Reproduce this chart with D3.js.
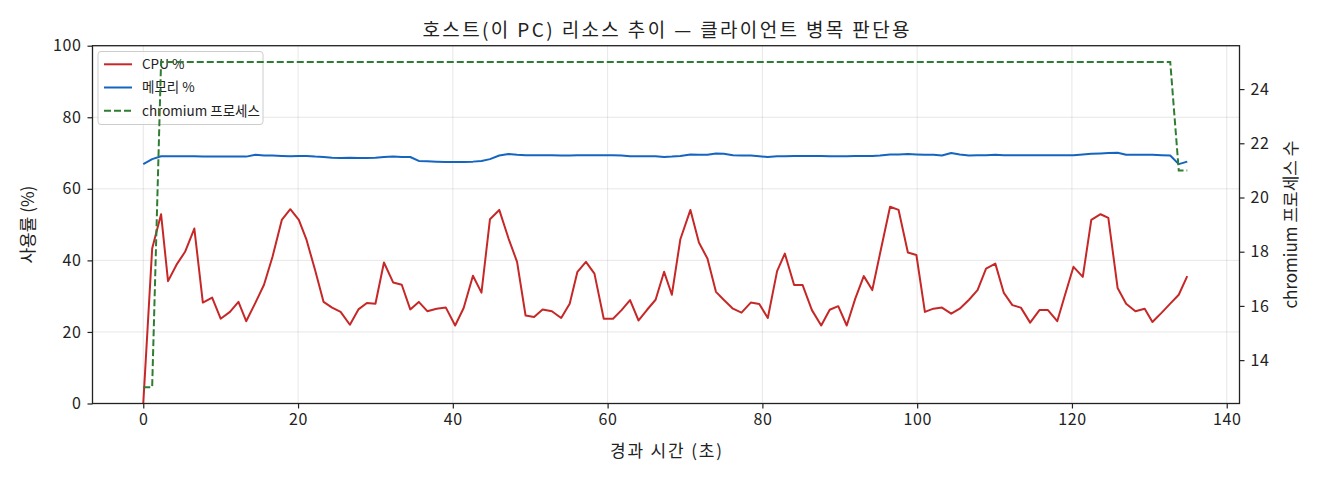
<!DOCTYPE html>
<html>
<head>
<meta charset="utf-8">
<script src="https://cdn.jsdelivr.net/npm/d3@7"></script>
<style>
  body { margin: 0; background: #fff; }
  svg text { font-family: "Noto Sans CJK KR", "Noto Sans", sans-serif; fill: #222; }
</style>
</head>
<body>
<div class="chart"></div>
<script>
// elapsed seconds, one sample per ~1.12 s
const times = [
  0, 1.15, 2.3, 3.2, 4.3, 5.4, 6.6, 7.7, 8.9, 10.0,
  11.2, 12.3, 13.3, 14.5, 15.6, 16.7, 17.9, 19.0, 20.1, 21.1,
  22.2, 23.3, 24.4, 25.5, 26.7, 27.8, 28.9, 30.0, 31.1, 32.3,
  33.4, 34.5, 35.6, 36.7, 37.9, 39.1, 40.3, 41.4, 42.6, 43.7,
  44.8, 46.0, 47.2, 48.3, 49.4, 50.5, 51.6, 52.8, 54.0, 55.1,
  56.1, 57.2, 58.3, 59.5, 60.7, 61.8, 62.9, 64.0, 65.1, 66.2,
  67.3, 68.3, 69.4, 70.7, 71.8, 72.9, 74.0, 75.0, 76.2, 77.3,
  78.5, 79.6, 80.7, 81.9, 82.9, 84.1, 85.2, 86.4, 87.6, 88.7,
  89.8, 90.9, 92.0, 93.1, 94.2, 95.2, 96.5, 97.6, 98.8, 99.9,
  101.0, 102.1, 103.2, 104.4, 105.5, 106.7, 107.8, 108.9, 110.1, 111.2,
  112.3, 113.4, 114.6, 115.8, 116.9, 118.1, 119.1, 120.2, 121.4, 122.5,
  123.7, 124.7, 125.9, 127.0, 128.2, 129.4, 130.4, 131.6, 132.7, 133.8,
  134.9
];

const cpu = [
  0, 43.3, 52.9, 34.2, 38.8, 42.4, 48.9, 28.2, 29.6, 23.7,
  25.6, 28.4, 23.0, 28.2, 33.2, 41.0, 51.3, 54.3, 51.3, 45.7,
  37.3, 28.4, 26.8, 25.6, 22.0, 26.3, 28.1, 27.9, 39.4, 33.8,
  33.2, 26.3, 28.4, 25.8, 26.5, 26.8, 21.8, 26.7, 35.7, 31.0,
  51.5, 54.1, 46.1, 39.6, 24.6, 24.2, 26.3, 25.8, 23.9, 27.9,
  36.8, 39.6, 36.3, 23.7, 23.7, 26.1, 28.9, 23.2, 26.2, 29.0,
  36.8, 30.4, 45.9, 54.1, 45.0, 40.5, 31.2, 29.0, 26.5, 25.4,
  28.2, 27.8, 23.9, 37.0, 41.9, 33.1, 33.1, 26.1, 21.8, 26.2,
  27.2, 21.8, 29.3, 35.6, 31.7, 41.9, 55.0, 54.1, 42.2, 41.5,
  25.6, 26.5, 26.8, 25.1, 26.5, 29.0, 31.7, 37.7, 39.1, 30.9,
  27.5, 26.8, 22.6, 26.1, 26.1, 23.0, 30.3, 38.2, 35.4, 51.3,
  52.9, 51.9, 32.3, 27.9, 25.8, 26.5, 22.8, 25.4, 27.9, 30.4,
  35.6
];

const mem = [
  66.9, 68.3, 69.1, 69.1, 69.1, 69.1, 69.1, 69.0, 69.0, 69.0,
  69.0, 69.0, 69.0, 69.5, 69.3, 69.3, 69.2, 69.1, 69.2, 69.2,
  69.0, 68.9, 68.7, 68.6, 68.7, 68.6, 68.6, 68.7, 68.9, 69.0,
  68.9, 68.9, 67.8, 67.7, 67.6, 67.5, 67.5, 67.5, 67.6, 67.8,
  68.3, 69.3, 69.7, 69.5, 69.4, 69.4, 69.4, 69.4, 69.3, 69.3,
  69.4, 69.4, 69.4, 69.4, 69.4, 69.3, 69.1, 69.1, 69.1, 69.1,
  68.9, 69.0, 69.2, 69.6, 69.5, 69.5, 69.9, 69.8, 69.4, 69.3,
  69.3, 69.1, 68.9, 69.1, 69.1, 69.2, 69.2, 69.2, 69.2, 69.1,
  69.1, 69.1, 69.2, 69.2, 69.2, 69.3, 69.6, 69.6, 69.7, 69.6,
  69.5, 69.5, 69.3, 70.0, 69.6, 69.3, 69.4, 69.4, 69.5, 69.4,
  69.4, 69.4, 69.4, 69.4, 69.4, 69.4, 69.4, 69.4, 69.6, 69.8,
  69.9, 70.0, 70.1, 69.5, 69.5, 69.5, 69.5, 69.4, 69.3, 66.9,
  67.6
];

const procs = [
  13, 13,
  25, 25, 25, 25, 25, 25, 25, 25, 25, 25, 25, 25, 25, 25, 25, 25, 25, 25, 25, 25,
  25, 25, 25, 25, 25, 25, 25, 25, 25, 25, 25, 25, 25, 25, 25, 25, 25, 25, 25, 25,
  25, 25, 25, 25, 25, 25, 25, 25, 25, 25, 25, 25, 25, 25, 25, 25, 25, 25, 25, 25,
  25, 25, 25, 25, 25, 25, 25, 25, 25, 25, 25, 25, 25, 25, 25, 25, 25, 25, 25, 25,
  25, 25, 25, 25, 25, 25, 25, 25, 25, 25, 25, 25, 25, 25, 25, 25, 25, 25, 25, 25,
  25, 25, 25, 25, 25, 25, 25, 25, 25, 25, 25, 25, 25, 25, 25, 25, 25,
  21, 21
];

const xTicks = [0, 20, 40, 60, 80, 100, 120, 140];
const pctTicks = [0, 20, 40, 60, 80, 100];
const procTicks = [14, 16, 18, 20, 22, 24];

const titleText = "호스트(이 PC) 리소스 추이 — 클라이언트 병목 판단용";
const xLabel = "경과 시간 (초)";
const yLabel = "사용률 (%)";
const y2Label = "chromium 프로세스 수";
const seriesNames = ["CPU %", "메모리 %", "chromium 프로세스"];
const seriesColors = ["#c62828", "#1565c0", "#2e7d32"];

const W = 1320, H = 480;
const pLeft = 92.5, pRight = 1239.5, pTop = 45.7, pBottom = 403.5;

const svg = d3.select(".chart")
    .append("svg")
    .attr("width", W)
    .attr("height", H);

const x = d3.scaleLinear().domain([-6.56, 141.65]).range([pLeft, pRight]);
const y = d3.scaleLinear().domain([0, 100]).range([pBottom, pTop]);
const y2 = d3.scaleLinear().domain([12.4, 25.6]).range([pBottom, pTop]);

// grid
const grid = svg.append("g").attr("stroke", "#b0b0b0").attr("stroke-opacity", 0.3).attr("stroke-width", 1);
grid.selectAll(".gx").data(xTicks).join("line")
    .attr("x1", d => x(d)).attr("x2", d => x(d))
    .attr("y1", pTop).attr("y2", pBottom);
grid.selectAll(".gy").data(pctTicks).join("line")
    .attr("x1", pLeft).attr("x2", pRight)
    .attr("y1", d => y(d)).attr("y2", d => y(d));

svg.append("clipPath").attr("id", "plot")
    .append("rect").attr("x", pLeft).attr("y", pTop)
    .attr("width", pRight - pLeft).attr("height", pBottom - pTop);

const linePct = d3.line().x((d, i) => x(times[i])).y(d => y(d));
const lineProc = d3.line().x((d, i) => x(times[i])).y(d => y2(d));

svg.append("path")
    .datum(cpu)
    .attr("clip-path", "url(#plot)")
    .attr("fill", "none")
    .attr("stroke", seriesColors[0])
    .attr("stroke-width", 2)
    .attr("stroke-linejoin", "round")
    .attr("d", linePct);

svg.append("path")
    .datum(mem)
    .attr("clip-path", "url(#plot)")
    .attr("fill", "none")
    .attr("stroke", seriesColors[1])
    .attr("stroke-width", 2)
    .attr("stroke-linejoin", "round")
    .attr("d", linePct);

// legend sits on the first axes, under the process line
const lg = svg.append("g").attr("transform", "translate(98,51.5)");
lg.append("rect")
    .attr("width", 165).attr("height", 73)
    .attr("rx", 3)
    .attr("fill", "#fff").attr("fill-opacity", 0.8)
    .attr("stroke", "#cccccc").attr("stroke-width", 1);
const rows = lg.selectAll(".row").data(seriesNames).join("g")
    .attr("transform", (d, i) => `translate(0,${12.8 + i * 23.2})`);
rows.append("line")
    .attr("x1", 6).attr("x2", 34)
    .attr("stroke", (d, i) => seriesColors[i])
    .attr("stroke-width", 2)
    .attr("stroke-dasharray", (d, i) => i === 2 ? "7,3" : null);
rows.append("text")
    .attr("x", 44).attr("y", 4.8)
    .attr("font-size", "13.5px")
    .text(d => d);

svg.append("path")
    .datum(procs)
    .attr("clip-path", "url(#plot)")
    .attr("fill", "none")
    .attr("stroke", seriesColors[2])
    .attr("stroke-width", 2)
    .attr("stroke-dasharray", "7,3")
    .attr("d", lineProc);

// axes
const fmt = d3.format("d");
const ax = svg.append("g").attr("transform", `translate(0,${pBottom})`)
    .call(d3.axisBottom(x).tickValues(xTicks).tickFormat(fmt).tickSize(5).tickPadding(5));
const ay = svg.append("g").attr("transform", `translate(${pLeft},0)`)
    .call(d3.axisLeft(y).tickValues(pctTicks).tickFormat(fmt).tickSize(5).tickPadding(6));
const ay2 = svg.append("g").attr("transform", `translate(${pRight},0)`)
    .call(d3.axisRight(y2).tickValues(procTicks).tickFormat(fmt).tickSize(5).tickPadding(6));
[ax, ay, ay2].forEach(g => {
    g.select(".domain").remove();
    g.selectAll("line").attr("stroke", "#222").attr("stroke-width", 1.2);
    g.selectAll("text").attr("font-size", "16px").attr("fill", "#222")
        .attr("letter-spacing", "0.6px")
        .attr("font-family", "'Noto Sans CJK KR', sans-serif");
});

svg.append("rect")
    .attr("x", pLeft).attr("y", pTop)
    .attr("width", pRight - pLeft).attr("height", pBottom - pTop)
    .attr("fill", "none").attr("stroke", "#222").attr("stroke-width", 1.3);

// labels
svg.append("text")
    .attr("x", (pLeft + pRight) / 2).attr("y", 37)
    .attr("text-anchor", "middle")
    .attr("font-size", "19px")
    .attr("textLength", 487)
    .attr("lengthAdjust", "spacing")
    .text(titleText);

svg.append("text")
    .attr("x", (pLeft + pRight) / 2).attr("y", 457)
    .attr("text-anchor", "middle")
    .attr("font-size", "17px")
    .attr("textLength", 112)
    .attr("lengthAdjust", "spacing")
    .text(xLabel);

svg.append("text")
    .attr("transform", `translate(34,${(pTop + pBottom) / 2}) rotate(-90)`)
    .attr("text-anchor", "middle")
    .attr("font-size", "17px")
    .text(yLabel);

svg.append("text")
    .attr("transform", `translate(1297,${(pTop + pBottom) / 2}) rotate(-90)`)
    .attr("text-anchor", "middle")
    .attr("font-size", "17px")
    .text(y2Label);
</script>
</body>
</html>
